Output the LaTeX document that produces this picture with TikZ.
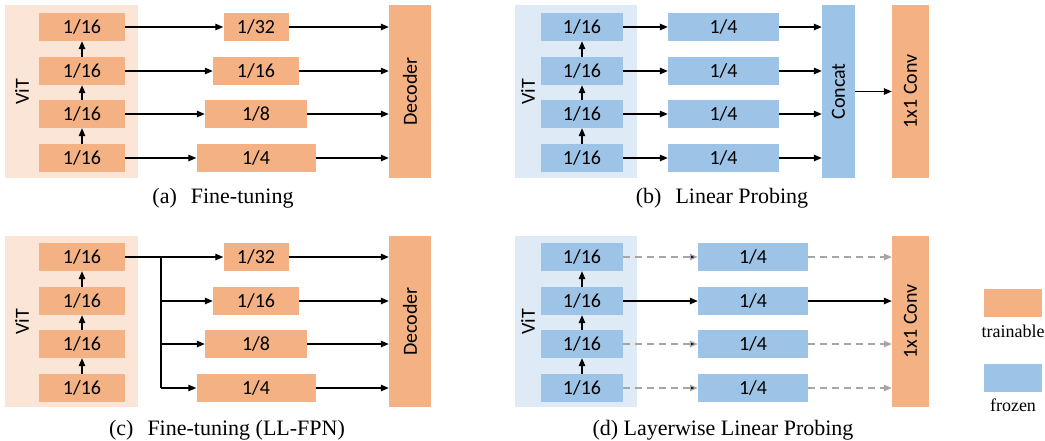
\documentclass[tikz,border=0pt]{standalone}
\usepackage{fontspec}
\usepackage{graphicx}
\setmainfont{Liberation Serif}
\setsansfont{Carlito}
\usetikzlibrary{arrows.meta}
\definecolor{trainorange}{HTML}{F4B183}
\definecolor{trainbg}{HTML}{FBE5D6}
\definecolor{frozenblue}{HTML}{9DC3E6}
\definecolor{frozenbg}{HTML}{DEEBF7}
\definecolor{dashgray}{HTML}{A6A6A6}
\begin{document}
\begin{tikzpicture}[x=1pt,y=-1pt]
	\tikzstyle{block}=[inner sep=0pt,minimum height=28pt,font=\sffamily\fontsize{20}{24}\selectfont]
	\tikzstyle{trainable}=[block,fill=trainorange]
	\tikzstyle{frozen}=[block,fill=frozenblue]
	\tikzstyle{vitbg}=[inner sep=0pt,minimum width=133pt,minimum height=173pt]
	\tikzstyle{vitlabel}=[rotate=90,font=\sffamily\fontsize{20}{24}\selectfont]
	\tikzstyle{caption}=[font=\fontsize{22}{26}\selectfont]
	\tikzstyle{edge}=[draw=black,line width=1.3pt,-{Triangle[length=8pt,width=6.5pt]}]
	\tikzstyle{line}=[draw=black,line width=1.3pt]
	\tikzstyle{dashedge}=[draw=dashgray,line width=1.3pt,dash pattern=on 7pt off 5pt,-{Triangle[length=8pt,width=6.5pt]}]
	\useasboundingbox (0,0) rectangle (1045,440);

	% (a) fine-tuning
	\begin{scope}
		\node [vitbg,fill=trainbg] (abg) at (71.5,91.5) {};
		\node [vitlabel] (avit) at (22,92) {ViT};
		\node [trainable,minimum width=86pt] (a1) at (82,27) {1/16};
		\node [trainable,minimum width=86pt] (a2) at (82,71) {1/16};
		\node [trainable,minimum width=86pt] (a3) at (82,114) {1/16};
		\node [trainable,minimum width=86pt] (a4) at (82,158) {1/16};
		\node [trainable,minimum width=65pt] (am1) at (256,27) {1/32};
		\node [trainable,minimum width=86pt] (am2) at (256,71) {1/16};
		\node [trainable,minimum width=102pt] (am3) at (256,114) {1/8};
		\node [trainable,minimum width=119pt] (am4) at (256,158) {1/4};
		\node [trainable,minimum width=42pt,minimum height=173pt] (adec) at (410,91.5) {\rotatebox{90}{Decoder}};

		\path[edge] (a4) edge (a3);
		\path[edge] (a3) edge (a2);
		\path[edge] (a2) edge (a1);
		\path[edge] (a1) edge (am1);
		\path[edge] (a2) edge (am2);
		\path[edge] (a3) edge (am3);
		\path[edge] (a4) edge (am4);
		\draw[edge] (am1) -- (am1 -| adec.west);
		\draw[edge] (am2) -- (am2 -| adec.west);
		\draw[edge] (am3) -- (am3 -| adec.west);
		\draw[edge] (am4) -- (am4 -| adec.west);
		\node [caption] (acap) at (223,198) {(a)\hspace{14pt}Fine-tuning};
	\end{scope}

	% (b) linear probing
	\begin{scope}
		\node [vitbg,fill=frozenbg,minimum width=122pt] (bbg) at (576,91.5) {};
		\node [vitlabel] (bvit) at (528,92) {ViT};
		\node [frozen,minimum width=82pt] (b1) at (582,27) {1/16};
		\node [frozen,minimum width=82pt] (b2) at (582,71) {1/16};
		\node [frozen,minimum width=82pt] (b3) at (582,114) {1/16};
		\node [frozen,minimum width=82pt] (b4) at (582,158) {1/16};
		\node [frozen,minimum width=111pt] (bm1) at (723.5,27) {1/4};
		\node [frozen,minimum width=111pt] (bm2) at (723.5,71) {1/4};
		\node [frozen,minimum width=111pt] (bm3) at (723.5,114) {1/4};
		\node [frozen,minimum width=111pt] (bm4) at (723.5,158) {1/4};
		\node [frozen,minimum width=33pt,minimum height=173pt] (bcat) at (838.5,91.5) {\rotatebox{90}{Concat}};
		\node [trainable,minimum width=37pt,minimum height=173pt] (bconv) at (910.5,91.5) {\rotatebox{90}{1x1 Conv}};

		\path[edge] (b4) edge (b3);
		\path[edge] (b3) edge (b2);
		\path[edge] (b2) edge (b1);
		\path[edge] (b1) edge (bm1);
		\path[edge] (b2) edge (bm2);
		\path[edge] (b3) edge (bm3);
		\path[edge] (b4) edge (bm4);
		\draw[edge] (bm1) -- (bm1 -| bcat.west);
		\draw[edge] (bm2) -- (bm2 -| bcat.west);
		\draw[edge] (bm3) -- (bm3 -| bcat.west);
		\draw[edge] (bm4) -- (bm4 -| bcat.west);
		\path[edge] (bcat) edge (bconv);
		\node [caption] (bcap) at (722,198) {(b)\hspace{14pt}Linear Probing};
	\end{scope}

	% (c) fine-tuning, LL-FPN
	\begin{scope}
		\node [vitbg,fill=trainbg,minimum height=171pt] (cbg) at (71.5,321.5) {};
		\node [vitlabel] (cvit) at (22,322) {ViT};
		\node [trainable,minimum width=86pt] (c1) at (82,257) {1/16};
		\node [trainable,minimum width=86pt] (c2) at (82,301) {1/16};
		\node [trainable,minimum width=86pt] (c3) at (82,344) {1/16};
		\node [trainable,minimum width=86pt] (c4) at (82,388) {1/16};
		\node [trainable,minimum width=65pt] (cm1) at (256,257) {1/32};
		\node [trainable,minimum width=86pt] (cm2) at (256,301) {1/16};
		\node [trainable,minimum width=102pt] (cm3) at (256,344) {1/8};
		\node [trainable,minimum width=119pt] (cm4) at (256,388) {1/4};
		\node [trainable,minimum width=42pt,minimum height=171pt] (cdec) at (410,321.5) {\rotatebox{90}{Decoder}};
		\coordinate (cbr) at (161,257);

		\path[edge] (c4) edge (c3);
		\path[edge] (c3) edge (c2);
		\path[edge] (c2) edge (c1);
		\path[edge] (c1) edge (cm1);
		\draw[line] (cbr) -- (cbr |- cm4);
		\draw[edge] (cbr |- cm2) -- (cm2);
		\draw[edge] (cbr |- cm3) -- (cm3);
		\draw[edge] (cbr |- cm4) -- (cm4);
		\draw[edge] (cm1) -- (cm1 -| cdec.west);
		\draw[edge] (cm2) -- (cm2 -| cdec.west);
		\draw[edge] (cm3) -- (cm3 -| cdec.west);
		\draw[edge] (cm4) -- (cm4 -| cdec.west);
		\node [caption] (ccap) at (227,430) {(c)\hspace{14pt}Fine-tuning (LL-FPN)};
	\end{scope}

	% (d) layerwise linear probing
	\begin{scope}
		\node [vitbg,fill=frozenbg,minimum width=122pt,minimum height=171pt] (dbg) at (576,321.5) {};
		\node [vitlabel] (dvit) at (528,322) {ViT};
		\node [frozen,minimum width=82pt] (d1) at (582,257) {1/16};
		\node [frozen,minimum width=82pt] (d2) at (582,301) {1/16};
		\node [frozen,minimum width=82pt] (d3) at (582,344) {1/16};
		\node [frozen,minimum width=82pt] (d4) at (582,388) {1/16};
		\node [frozen,minimum width=110pt] (dm1) at (753,257) {1/4};
		\node [frozen,minimum width=110pt] (dm2) at (753,301) {1/4};
		\node [frozen,minimum width=110pt] (dm3) at (753,344) {1/4};
		\node [frozen,minimum width=110pt] (dm4) at (753,388) {1/4};
		\node [trainable,minimum width=37pt,minimum height=171pt] (dconv) at (910.5,321.5) {\rotatebox{90}{1x1 Conv}};

		\path[edge] (d4) edge (d3);
		\path[edge] (d3) edge (d2);
		\path[edge] (d2) edge (d1);
		\path[dashedge] (d1) edge (dm1);
		\path[edge] (d2) edge (dm2);
		\path[dashedge] (d3) edge (dm3);
		\path[dashedge] (d4) edge (dm4);
		\draw[dashedge] (dm1) -- (dm1 -| dconv.west);
		\draw[edge] (dm2) -- (dm2 -| dconv.west);
		\draw[dashedge] (dm3) -- (dm3 -| dconv.west);
		\draw[dashedge] (dm4) -- (dm4 -| dconv.west);
		\node [caption] (dcap) at (723,430) {(d) Layerwise Linear Probing};
	\end{scope}

	% legend
	\node [trainable,minimum width=58pt] (ltrain) at (1013,303) {};
	\node [font=\fontsize{18}{22}\selectfont] (ltraintext) at (1013,331) {trainable};
	\node [frozen,minimum width=58pt] (lfrozen) at (1013,378) {};
	\node [font=\fontsize{18}{22}\selectfont] (lfrozentext) at (1013,405) {frozen};
\end{tikzpicture}
\end{document}
